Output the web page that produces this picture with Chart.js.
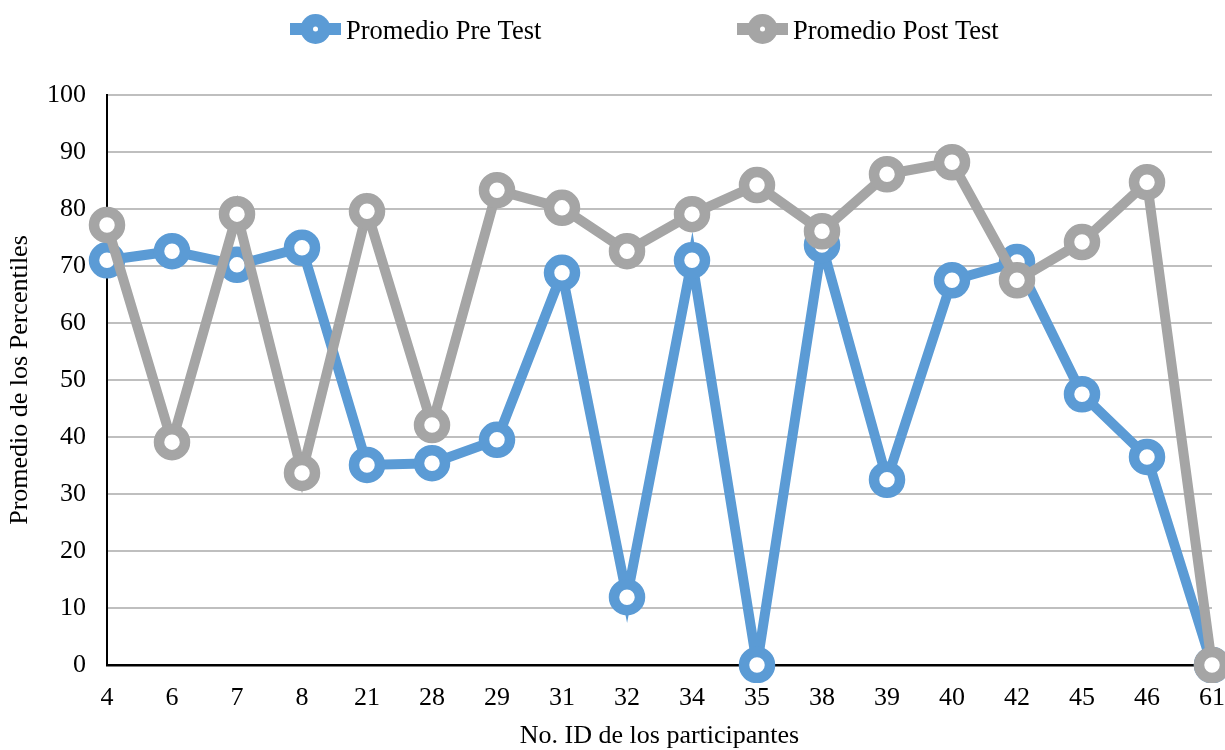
<!DOCTYPE html>
<html>
<head>
<meta charset="utf-8">
<title>Promedio Pre Test / Post Test</title>
<script src="https://cdn.jsdelivr.net/npm/chart.js@4.4.1/dist/chart.umd.min.js"></script>
<style>
  html, body { margin: 0; padding: 0; background: #fff; }
  #contenedor { width: 1225px; height: 750px; }
</style>
</head>
<body>
<div id="contenedor"><canvas id="graficoPromedios"></canvas></div>
<script>
// DATOS
const participantes = ['4', '6', '7', '8', '21', '28', '29', '31', '32', '34', '35', '38', '39', '40', '42', '45', '46', '61'];
const preTest = [71, 72.6, 70.2, 73.2, 35.1, 35.4, 39.5, 68.8, 11.9, 71, 0, 73.7, 32.5, 67.5, 70.7, 47.5, 36.5, 0];
const postTest = [77.2, 39.1, 79.1, 33.7, 79.6, 42.1, 83.3, 80.2, 72.6, 79.1, 84.2, 76.1, 86.1, 88.2, 67.5, 74.2, 84.7, 0];

const azul = '#5B9BD5';
const gris = '#A5A5A5';
const fuente = "'Liberation Serif', 'Times New Roman', serif";

// leyenda dibujada a mano (linea + circulo como en Excel)
const leyenda = {
  id: 'leyenda',
  afterDraw(chart) {
    const ctx = chart.ctx;
    const posiciones = [290, 737];
    ctx.save();
    chart.data.datasets.forEach((ds, i) => {
      const x = posiciones[i];
      const y = 29;
      ctx.fillStyle = ds.borderColor;
      ctx.fillRect(x, y - 6, 51, 12);
      ctx.beginPath();
      ctx.arc(x + 25.5, y, 15, 0, Math.PI * 2);
      ctx.fill();
      ctx.fillStyle = '#fff';
      ctx.beginPath();
      ctx.arc(x + 25.5, y, 2.5, 0, Math.PI * 2);
      ctx.fill();
      ctx.fillStyle = '#000';
      ctx.font = '26.5px ' + fuente;
      ctx.textBaseline = 'alphabetic';
      ctx.textAlign = 'left';
      ctx.fillText(ds.label, x + 56, 39);
    });
    ctx.restore();
  }
};

const serie = (label, data, color, order) => ({
  label: label,
  data: data,
  order: order,
  borderColor: color,
  backgroundColor: color,
  borderWidth: 10,
  borderJoinStyle: 'miter',
  pointRadius: 13,
  pointBorderWidth: 10.5,
  pointBackgroundColor: '#fff',
  pointBorderColor: color,
  pointHoverRadius: 13,
  tension: 0,
  clip: { left: 20, top: 20, right: 20, bottom: 18 }
});

const config = {
  type: 'line',
  data: {
    labels: participantes,
    datasets: [
      serie('Promedio Pre Test', preTest, azul, 1),
      serie('Promedio Post Test', postTest, gris, 0)
    ]
  },
  options: {
    responsive: true,
    maintainAspectRatio: false,
    animation: false,
    layout: { autoPadding: false, padding: { top: 95, right: 13, left: 0, bottom: 0 } },
    plugins: {
      legend: { display: false },
      tooltip: { enabled: false }
    },
    scales: {
      x: {
        offset: false,
        grid: { display: false, drawTicks: false },
        border: { display: true, color: '#000', width: 2.5 },
        ticks: { color: '#000', padding: 18, maxRotation: 0, autoSkip: false, font: { family: fuente, size: 26 } },
        title: {
          display: true,
          text: 'No. ID de los participantes',
          color: '#000',
          padding: { top: 0, bottom: -2 },
          font: { family: fuente, size: 26 }
        },
        afterFit: (s) => { s.height = 85; s.paddingLeft = 0; s.paddingRight = 0; }
      },
      y: {
        min: 0,
        max: 100,
        grid: { color: '#BFBFBF', lineWidth: 2, drawTicks: false },
        border: { display: true, color: '#000', width: 2 },
        ticks: { stepSize: 10, color: '#000', padding: 21, font: { family: fuente, size: 26 } },
        title: {
          display: true,
          text: 'Promedio de los Percentiles',
          color: '#000',
          padding: { top: 5, bottom: 0 },
          font: { family: fuente, size: 26 }
        },
        afterFit: (s) => { s.width = 107; }
      }
    }
  },
  plugins: [leyenda]
};

var graficoPromedios = new Chart(document.getElementById('graficoPromedios'), config);
</script>
</body>
</html>
